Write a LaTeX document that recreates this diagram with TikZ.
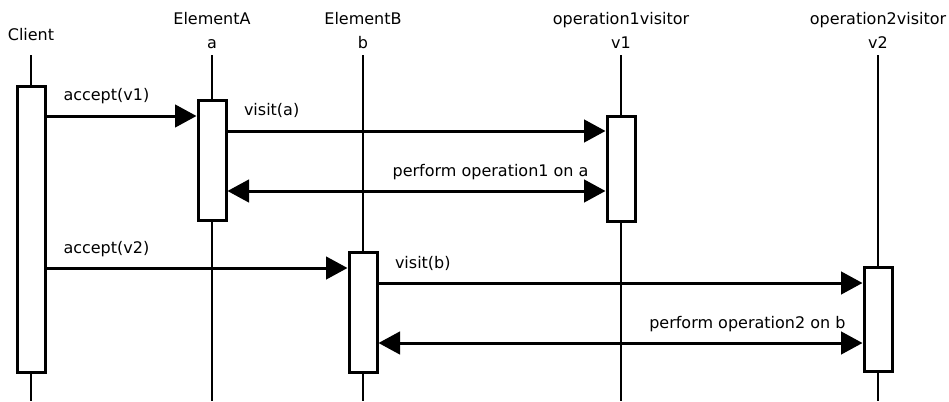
\documentclass[tikz,border=0pt]{standalone}
\usepackage{fontspec}
\setmainfont{DejaVu Sans}
\usepackage{tikz}
\usetikzlibrary{arrows.meta, positioning}

\begin{document}
\begin{tikzpicture}[x=1pt,y=-1pt,>={Triangle[length=21.5pt,width=22.5pt]},
  head style/.style={
    font=\fontsize{16}{19}\selectfont,
    anchor=base,
    inner sep=0pt,
  },
  box style/.style={
    draw,
    line width=3pt,
    fill=white,
    rectangle,
    anchor=north,
    minimum width=28pt,
    minimum height=#1,
    inner sep=0pt,
  },
  life style/.style={
    line width=2.8pt
  },
  msg style/.style={
    line width=3pt
  },
  text style/.style={
    font=\fontsize{16}{19}\selectfont,
    inner sep=0pt,
    yshift=15pt
  }
]
\useasboundingbox (0,0) rectangle (949,401);
\coordinate (bottom) at (0,401);

% objects
\node[head style] (C) at (31,41) {Client};
\node[head style] (EA) at (212,25) {ElementA};
\node[head style] (a) at (212,49) {a};
\node[head style] (EB) at (363,25) {ElementB};
\node[head style] (b) at (363,49) {b};
\node[head style] (OV1) at (621,25) {operation1visitor};
\node[head style] (v1) at (621,49) {v1};
\node[head style] (OV2) at (878,25) {operation2visitor};
\node[head style] (v2) at (878,49) {v2};

% lifelines
\coordinate[below=14pt of C] (C-top);
\foreach \n in {a,b,v1,v2}
  \coordinate[below=6pt of \n] (\n-top);
\foreach \n in {C,a,b,v1,v2}
  \draw[life style] (\n-top) -- (\n-top |- bottom);

% activations
\node[box style=285.5pt] (actC) at (31,85) {};
\node[box style=119.5pt] (actA) at (212,99.5) {};
\node[box style=104.5pt] (actV1) at (621,115) {};
\node[box style=119.5pt] (actB) at (363,251) {};
\node[box style=104pt] (actV2) at (878,266) {};

% messages
\coordinate (m1) at (0,116);
\coordinate (m2) at (0,131);
\coordinate (m3) at (0,191);
\coordinate (m4) at (0,268);
\coordinate (m5) at (0,283);
\coordinate (m6) at (0,343);

\draw[msg style,->] (actC.east |- m1) -- node[text style,pos=0,anchor=base west,xshift=15.5pt]{accept(v1)} (actA.west |- m1);
\draw[msg style,->] (actA.east |- m2) -- node[text style,pos=0,anchor=base west,xshift=15pt]{visit(a)} (actV1.west |- m2);
\draw[msg style,<->] (actA.east |- m3) -- node[text style,pos=1,anchor=base east,xshift=-15.5pt]{perform operation1 on a} (actV1.west |- m3);
\draw[msg style,->] (actC.east |- m4) -- node[text style,pos=0,anchor=base west,xshift=15.5pt]{accept(v2)} (actB.west |- m4);
\draw[msg style,->] (actB.east |- m5) -- node[text style,pos=0,anchor=base west,xshift=15pt]{visit(b)} (actV2.west |- m5);
\draw[msg style,<->] (actB.east |- m6) -- node[text style,pos=1,anchor=base east,xshift=-15.5pt]{perform operation2 on b} (actV2.west |- m6);

\end{tikzpicture}
\end{document}
